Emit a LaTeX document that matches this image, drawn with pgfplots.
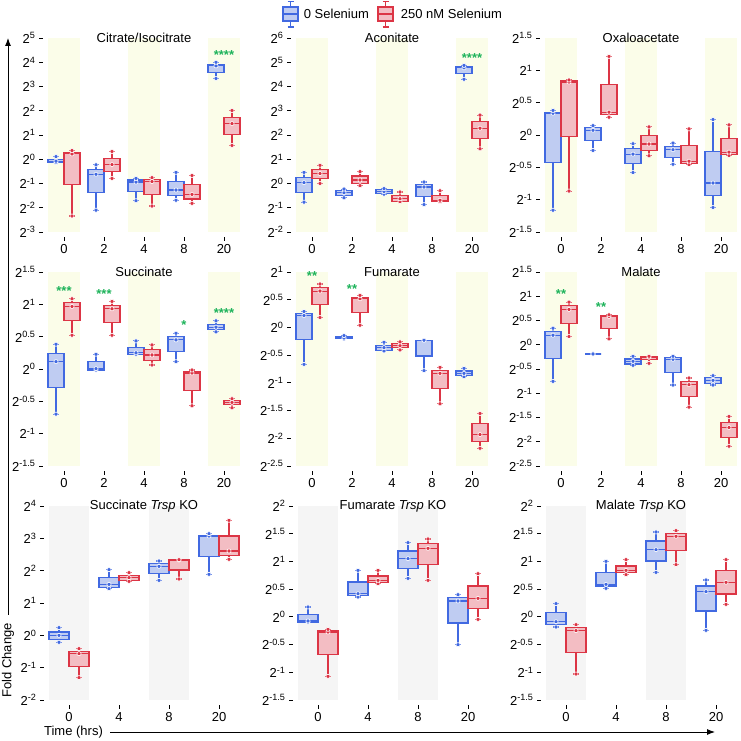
\documentclass[border=0pt]{standalone}
\usepackage{fontspec}
\setmainfont{Liberation Sans}
\usepackage{pgfplots}
\pgfplotsset{compat=1.18}
\usepgfplotslibrary{statistics}
\usetikzlibrary{arrows.meta}

\definecolor{bedge}{HTML}{4169E1}
\definecolor{bfill}{HTML}{BFCCF2}
\definecolor{redge}{HTML}{DC3545}
\definecolor{rfill}{HTML}{F3BDC3}
\definecolor{bandY}{HTML}{FBFDE9}
\definecolor{bandG}{HTML}{F5F5F5}
\definecolor{sig}{HTML}{1DB35A}

% #1 colour prefix (b/r), #2 position, #3..#7 lower whisker, q1, median, q3, upper whisker
\newcommand{\bx}[7]{%
  \addplot[draw=#1edge, fill=#1fill, line width=1.1pt,
    boxplot prepared={draw position=#2, lower whisker=#3, lower quartile=#4,
      median=#5, upper quartile=#6, upper whisker=#7},
    boxplot/every box/.style={draw=#1edge, fill=#1fill}] coordinates {};
  \addplot[only marks, mark=*, mark size=2.1pt,
    mark options={fill=#1edge, draw=white, line width=0.6pt}]
    coordinates {(#2,#3) (#2,#5) (#2,#7)};
}
\newcommand{\band}[5]{\fill[#5] (axis cs:#1,#3) rectangle (axis cs:#2,#4);}
\newcommand{\stars}[3]{\node[text=sig, inner sep=0pt, yshift=-3pt] at (axis cs:#1,#2) {\bfseries #3};}
\newcommand{\ptitle}[1]{\node[inner sep=0pt] at (rel axis cs:0.5,1) {#1};}

\pgfplotsset{
  panel/.style={
    scale only axis, width=192pt, height=194pt, anchor=south west,
    xmin=-0.4, xmax=4.4, xtick={0,1,2,3,4}, xticklabels={0,2,4,8,20},
    axis x line*=bottom, axis y line*=left,
    axis x line shift=5pt, axis y line shift=5pt,
    axis line style={draw=none},
    tick align=outside, major tick length=4pt,
    major tick style={black, line width=0.8pt},
    yticklabel={2\textsuperscript{\pgfmathprintnumber[assume math mode=true]{\tick}}},
    clip=false,
    boxplot/draw direction=y,
    boxplot/box extend=0.4, boxplot/whisker extend=0.14,
  },
  kopanel/.style={panel, width=190pt, xmax=3.4, xtick={0,1,2,3},
    xticklabels={0,4,8,20}, boxplot/whisker extend=0.11},
}

\begin{document}
\begin{tikzpicture}[font=\fontsize{13}{15.6}\selectfont]
\useasboundingbox (0pt,0pt) rectangle (740pt,741pt);

% ---------- row 1 ----------
\begin{axis}[panel, at={(48pt,509pt)}, ymin=-3.0001, ymax=5.0001, ytick={-3,-2,-1,0,1,2,3,4,5}]
\band{-0.4}{0.4}{-3}{5}{bandY}\band{1.6}{2.4}{-3}{5}{bandY}\band{3.6}{4.4}{-3}{5}{bandY}
\bx{b}{-0.2}{-0.14}{-0.13}{-0.08}{0.0}{0.11}
\bx{r}{0.2}{-2.34}{-1.06}{0.22}{0.29}{0.36}
\bx{b}{0.8}{-2.1}{-1.37}{-0.62}{-0.44}{-0.23}
\bx{r}{1.2}{-0.79}{-0.51}{-0.22}{0.045}{0.32}
\bx{b}{1.8}{-1.71}{-1.33}{-0.94}{-0.855}{-0.79}
\bx{r}{2.2}{-1.93}{-1.44}{-0.92}{-0.83}{-0.76}
\bx{b}{2.8}{-1.69}{-1.49}{-1.27}{-0.9}{-0.54}
\bx{r}{3.2}{-1.82}{-1.64}{-1.45}{-1.06}{-0.67}
\bx{b}{3.8}{3.33}{3.57}{3.85}{3.91}{4.0}
\bx{r}{4.2}{0.57}{1.01}{1.47}{1.73}{2.01}
\stars{4}{4.43}{****}
\ptitle{Citrate/Isocitrate}
\end{axis}

\begin{axis}[panel, at={(296pt,509pt)}, ymin=-2.0001, ymax=6.0001, ytick={-2,-1,0,1,2,3,4,5,6}]
\band{-0.4}{0.4}{-2}{6}{bandY}\band{1.6}{2.4}{-2}{6}{bandY}\band{3.6}{4.4}{-2}{6}{bandY}
\bx{b}{-0.2}{-0.77}{-0.38}{0.035}{0.24}{0.46}
\bx{r}{0.2}{0.0}{0.2}{0.41}{0.57}{0.75}
\bx{b}{0.8}{-0.59}{-0.48}{-0.38}{-0.28}{-0.23}
\bx{r}{1.2}{-0.09}{0.0}{0.145}{0.31}{0.49}
\bx{b}{1.8}{-0.44}{-0.41}{-0.33}{-0.24}{-0.21}
\bx{r}{2.2}{-0.75}{-0.73}{-0.63}{-0.49}{-0.35}
\bx{b}{2.8}{-0.87}{-0.52}{-0.145}{-0.035}{0.06}
\bx{r}{3.2}{-0.75}{-0.73}{-0.69}{-0.5}{-0.3}
\bx{b}{3.8}{4.3}{4.53}{4.77}{4.81}{4.87}
\bx{r}{4.2}{1.43}{1.85}{2.28}{2.55}{2.82}
\stars{4}{5.29}{****}
\ptitle{Aconitate}
\end{axis}

\begin{axis}[panel, at={(545pt,509pt)}, ymin=-1.5001, ymax=1.5001, ytick={-1.5,-1,-0.5,0,0.5,1,1.5}]
\band{-0.4}{0.4}{-1.5}{1.5}{bandY}\band{1.6}{2.4}{-1.5}{1.5}{bandY}\band{3.6}{4.4}{-1.5}{1.5}{bandY}
\bx{b}{-0.2}{-1.163}{-0.426}{0.337}{0.353}{0.38}
\bx{r}{0.2}{-0.867}{-0.026}{0.82}{0.836}{0.85}
\bx{b}{0.8}{-0.239}{-0.088}{0.073}{0.109}{0.145}
\bx{r}{1.2}{0.275}{0.311}{0.353}{0.784}{1.215}
\bx{b}{1.8}{-0.581}{-0.441}{-0.296}{-0.213}{-0.135}
\bx{r}{2.2}{-0.322}{-0.239}{-0.14}{-0.01}{0.125}
\bx{b}{2.8}{-0.452}{-0.348}{-0.228}{-0.176}{-0.125}
\bx{r}{3.2}{-0.457}{-0.436}{-0.405}{-0.161}{0.094}
\bx{b}{3.8}{-1.121}{-0.929}{-0.742}{-0.254}{0.239}
\bx{r}{4.2}{-0.317}{-0.296}{-0.265}{-0.052}{0.156}
\ptitle{Oxaloacetate}
\end{axis}

% ---------- row 2 ----------
\begin{axis}[panel, at={(48pt,275pt)}, ymin=-1.5001, ymax=1.5001, ytick={-1.5,-1,-0.5,0,0.5,1,1.5}]
\band{-0.4}{0.4}{-1.5}{1.5}{bandY}\band{1.6}{2.4}{-1.5}{1.5}{bandY}\band{3.6}{4.4}{-1.5}{1.5}{bandY}
\bx{b}{-0.2}{-0.698}{-0.29}{0.114}{0.243}{0.383}
\bx{r}{0.2}{0.522}{0.745}{0.967}{1.034}{1.086}
\bx{b}{0.8}{-0.016}{-0.016}{0.005}{0.109}{0.228}
\bx{r}{1.2}{0.522}{0.724}{0.931}{0.988}{1.045}
\bx{b}{1.8}{0.228}{0.228}{0.25}{0.331}{0.434}
\bx{r}{2.2}{0.062}{0.129}{0.217}{0.3}{0.372}
\bx{b}{2.8}{0.114}{0.274}{0.45}{0.502}{0.553}
\bx{r}{3.2}{-0.569}{-0.326}{-0.062}{-0.047}{-0.016}
\bx{b}{3.8}{0.574}{0.605}{0.647}{0.688}{0.745}
\bx{r}{4.2}{-0.6}{-0.543}{-0.517}{-0.486}{-0.46}
\stars{0}{1.25}{***}\stars{1}{1.205}{***}\stars{3}{0.734}{*}\stars{4}{0.905}{****}
\ptitle{Succinate}
\end{axis}

\begin{axis}[panel, at={(296pt,275pt)}, ymin=-2.5001, ymax=1.0001, ytick={-2.5,-2,-1.5,-1,-0.5,0,0.5,1}]
\band{-0.4}{0.4}{-2.5}{1}{bandY}\band{1.6}{2.4}{-2.5}{1}{bandY}\band{3.6}{4.4}{-2.5}{1}{bandY}
\bx{b}{-0.2}{-0.666}{-0.225}{0.215}{0.246}{0.288}
\bx{r}{0.2}{0.179}{0.421}{0.656}{0.722}{0.783}
\bx{b}{0.8}{-0.207}{-0.207}{-0.19}{-0.171}{-0.147}
\bx{r}{1.2}{0.04}{0.276}{0.517}{0.541}{0.578}
\bx{b}{1.8}{-0.424}{-0.424}{-0.364}{-0.334}{-0.267}
\bx{r}{2.2}{-0.406}{-0.37}{-0.328}{-0.291}{-0.261}
\bx{b}{2.8}{-0.78}{-0.515}{-0.231}{-0.231}{-0.231}
\bx{r}{3.2}{-1.378}{-1.106}{-0.829}{-0.774}{-0.72}
\bx{b}{3.8}{-0.889}{-0.871}{-0.829}{-0.786}{-0.738}
\bx{r}{4.2}{-2.18}{-2.06}{-1.933}{-1.74}{-1.553}
\stars{0}{0.98}{**}\stars{1}{0.753}{**}
\ptitle{Fumarate}
\end{axis}

\begin{axis}[panel, at={(545pt,275pt)}, ymin=-2.5001, ymax=1.5001, ytick={-2.5,-2,-1.5,-1,-0.5,0,0.5,1,1.5}]
\band{-0.4}{0.4}{-2.5}{1.5}{bandY}\band{1.6}{2.4}{-2.5}{1.5}{bandY}\band{3.6}{4.4}{-2.5}{1.5}{bandY}
\bx{b}{-0.2}{-0.755}{-0.279}{0.197}{0.266}{0.341}
\bx{r}{0.2}{0.169}{0.438}{0.728}{0.803}{0.879}
\bx{b}{0.8}{-0.19}{-0.19}{-0.19}{-0.19}{-0.19}
\bx{r}{1.2}{0.121}{0.341}{0.583}{0.597}{0.617}
\bx{b}{1.8}{-0.424}{-0.397}{-0.341}{-0.293}{-0.238}
\bx{r}{2.2}{-0.383}{-0.3}{-0.259}{-0.238}{-0.238}
\bx{b}{2.8}{-0.831}{-0.576}{-0.3}{-0.266}{-0.238}
\bx{r}{3.2}{-1.286}{-1.059}{-0.824}{-0.755}{-0.686}
\bx{b}{3.8}{-0.831}{-0.79}{-0.734}{-0.679}{-0.638}
\bx{r}{4.2}{-2.093}{-1.907}{-1.707}{-1.597}{-1.479}
\stars{0}{1.1}{**}\stars{1}{0.845}{**}
\ptitle{Malate}
\end{axis}

% ---------- row 3: Trsp KO ----------
\begin{axis}[kopanel, at={(49pt,41pt)}, ymin=-2.0001, ymax=4.0001, ytick={-2,-1,0,1,2,3,4}]
\band{-0.4}{0.4}{-2}{4}{bandG}\band{1.6}{2.4}{-2}{4}{bandG}
\bx{b}{-0.2}{-0.216}{-0.134}{0.0}{0.103}{0.237}
\bx{r}{0.2}{-1.309}{-0.959}{-0.567}{-0.505}{-0.412}
\bx{b}{0.8}{1.443}{1.485}{1.577}{1.784}{2.031}
\bx{r}{1.2}{1.67}{1.701}{1.784}{1.845}{1.938}
\bx{b}{1.8}{1.701}{1.907}{2.134}{2.216}{2.299}
\bx{r}{2.2}{1.742}{2.021}{2.33}{2.34}{2.34}
\bx{b}{2.8}{1.887}{2.443}{3.072}{3.093}{3.144}
\bx{r}{3.2}{2.351}{2.464}{2.608}{3.072}{3.557}
\ptitle{Succinate \textit{Trsp} KO}
\end{axis}

\begin{axis}[kopanel, at={(298pt,41pt)}, ymin=-1.5001, ymax=2.0001, ytick={-1.5,-1,-0.5,0,0.5,1,1.5,2}]
\band{-0.4}{0.4}{-1.5}{2}{bandG}\band{1.6}{2.4}{-1.5}{2}{bandG}
\bx{b}{-0.2}{-0.093}{-0.093}{-0.075}{0.046}{0.178}
\bx{r}{0.2}{-1.073}{-0.676}{-0.273}{-0.255}{-0.225}
\bx{b}{0.8}{0.358}{0.382}{0.418}{0.629}{0.839}
\bx{r}{1.2}{0.599}{0.623}{0.659}{0.737}{0.839}
\bx{b}{1.8}{0.695}{0.869}{1.05}{1.188}{1.339}
\bx{r}{2.2}{0.659}{0.942}{1.236}{1.32}{1.405}
\bx{b}{2.8}{-0.502}{-0.111}{0.286}{0.346}{0.4}
\bx{r}{3.2}{-0.045}{0.148}{0.334}{0.557}{0.779}
\ptitle{Fumarate \textit{Trsp} KO}
\end{axis}

\begin{axis}[kopanel, at={(546pt,41pt)}, ymin=-1.5001, ymax=2.0001, ytick={-1.5,-1,-0.5,0,0.5,1,1.5,2}]
\band{-0.4}{0.4}{-1.5}{2}{bandG}\band{1.6}{2.4}{-1.5}{2}{bandG}
\bx{b}{-0.2}{-0.183}{-0.141}{-0.087}{0.076}{0.238}
\bx{r}{0.2}{-1.031}{-0.646}{-0.249}{-0.189}{-0.141}
\bx{b}{0.8}{0.515}{0.557}{0.587}{0.803}{1.002}
\bx{r}{1.2}{0.761}{0.797}{0.839}{0.918}{1.032}
\bx{b}{1.8}{0.803}{1.008}{1.212}{1.369}{1.531}
\bx{r}{2.2}{0.942}{1.194}{1.453}{1.501}{1.555}
\bx{b}{2.8}{-0.243}{0.106}{0.455}{0.557}{0.665}
\bx{r}{3.2}{0.226}{0.412}{0.623}{0.833}{1.032}
\ptitle{Malate \textit{Trsp} KO}
\end{axis}

% ---------- shared axis arrows and labels ----------
\draw[line width=0.9pt, -{Latex[length=8pt,width=6pt]}] (8pt,126pt) -- (8pt,703pt);
\node[rotate=90] at (8pt,80.5pt) {Fold Change};
\node at (73.5pt,9pt) {Time (hrs)};
\draw[line width=0.9pt, -{Latex[length=8pt,width=6pt]}] (110pt,9pt) -- (715pt,9pt);

% ---------- legend ----------
\begin{scope}[line width=1.1pt]
\draw[bedge] (290.5pt,739.5pt) -- (290.5pt,714pt);
\draw[bedge] (287.5pt,739.5pt) -- (293.5pt,739.5pt) (287.5pt,714pt) -- (293.5pt,714pt);
\filldraw[draw=bedge, fill=bfill] (283pt,720pt) rectangle (298pt,734pt);
\draw[bedge] (283pt,727pt) -- (298pt,727pt);
\node[anchor=west] at (300pt,727pt) {0 Selenium};
\draw[redge] (385.5pt,739.5pt) -- (385.5pt,714pt);
\draw[redge] (382.5pt,739.5pt) -- (388.5pt,739.5pt) (382.5pt,714pt) -- (388.5pt,714pt);
\filldraw[draw=redge, fill=rfill] (378pt,720pt) rectangle (393pt,734pt);
\draw[redge] (378pt,727pt) -- (393pt,727pt);
\node[anchor=west] at (397pt,727pt) {250 nM Selenium};
\end{scope}
\end{tikzpicture}
\end{document}
